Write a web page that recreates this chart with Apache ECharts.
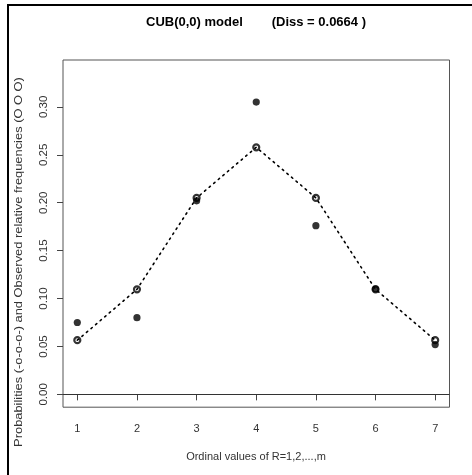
<!DOCTYPE html>
<html>
<head>
<meta charset="utf-8">
<script src="https://cdn.jsdelivr.net/npm/echarts@6/dist/echarts.min.js"></script>
<style>
html,body{margin:0;padding:0;background:#fff;}
#chart{width:472px;height:475px;}
</style>
</head>
<body>
<div id="chart"></div>
<script>
const categories = [1, 2, 3, 4, 5, 6, 7];
const modelProb = [0.0565, 0.1096, 0.2050, 0.2578, 0.2050, 0.1096, 0.0565];
const observedFreq = [0.075, 0.080, 0.202, 0.305, 0.176, 0.110, 0.052];
const yTicks = [0, 0.05, 0.10, 0.15, 0.20, 0.25, 0.30];
const xTicks = [1, 2, 3, 4, 5, 6, 7];
const titleText = 'CUB(0,0) model        (Diss = 0.0664 )';
const xTitle = 'Ordinal values of R=1,2,...,m';
const yTitle = 'Probabilities (-o-o-o-) and Observed relative frequencies (O O O)';

const FONT = 'Liberation Sans, Arial, sans-serif';
const chart = echarts.init(document.getElementById('chart'), null, {renderer: 'canvas'});

const modelPts = categories.map((c, i) => [c, modelProb[i]]);
const obsPts = categories.map((c, i) => [c, observedFreq[i]]);

const option = {
  backgroundColor: '#ffffff',
  animation: false,
  grid: {
    left: 63, right: 22.5, top: 60, bottom: 67.8,
    show: true, borderColor: '#555', borderWidth: 1, backgroundColor: 'transparent'
  },
  xAxis: {
    type: 'value', min: 0.76, max: 7.24,
    axisLine: {show: false},
    splitLine: {show: false},
    axisTick: {show: true, length: 6, lineStyle: {color: '#444', width: 1}, customValues: xTicks},
    axisLabel: {show: true, color: '#333', fontSize: 11, fontFamily: FONT, margin: 16, customValues: xTicks,
      formatter: v => String(v)}
  },
  yAxis: {
    type: 'value', min: -0.0134, max: 0.3489,
    axisLine: {show: false},
    splitLine: {show: false},
    axisTick: {show: true, length: 6, lineStyle: {color: '#444', width: 1}, customValues: yTicks},
    axisLabel: {show: true, color: '#333', fontSize: 11.5, fontFamily: FONT, margin: 13, rotate: 90,
      customValues: yTicks, formatter: v => v.toFixed(2)}
  },
  graphic: [
    {type: 'line', shape: {x1: 8, y1: 5, x2: 8, y2: 475}, style: {stroke: '#000', lineWidth: 2}},
    {type: 'line', shape: {x1: 7, y1: 5, x2: 472, y2: 5}, style: {stroke: '#000', lineWidth: 2}},
    {type: 'text', x: 256, y: 22, style: {text: titleText, fill: '#000', font: 'bold 13px ' + FONT,
      textAlign: 'center', textVerticalAlign: 'middle'}},
    {type: 'text', x: 256, y: 457, style: {text: xTitle, fill: '#333', font: '11px ' + FONT,
      textAlign: 'center', textVerticalAlign: 'middle'}},
    {type: 'text', x: 19, y: 262, rotation: Math.PI / 2, scaleX: 1.17, scaleY: 1.0,
      style: {text: yTitle, fill: '#333', font: '11px ' + FONT,
      textAlign: 'center', textVerticalAlign: 'middle'}}
  ],
  series: [
    {
      type: 'line', data: modelPts, symbol: 'none', silent: true, z: 2,
      lineStyle: {color: '#000', width: 1.6, type: [1.6, 4.4], cap: 'round'},
      markLine: {
        silent: true, symbol: ['none', 'none'], label: {show: false},
        lineStyle: {color: '#333', width: 1, type: 'solid'},
        data: [{yAxis: 0}]
      }
    },
    {
      type: 'scatter', data: obsPts, symbol: 'circle', symbolSize: 7.2, z: 3,
      itemStyle: {color: '#000'}
    },
    {
      type: 'scatter', data: modelPts, symbol: 'circle', symbolSize: 6, z: 4,
      itemStyle: {color: 'rgba(0,0,0,0)', borderColor: '#000', borderWidth: 2.2}
    }
  ]
};
chart.setOption(option);
</script>
</body>
</html>
